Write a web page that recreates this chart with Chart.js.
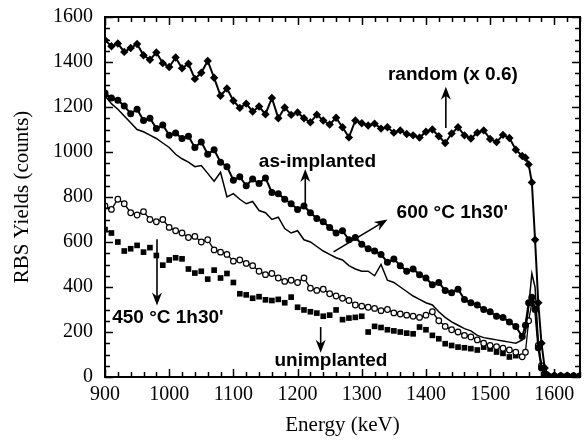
<!DOCTYPE html>
<html>
<head>
<meta charset="utf-8">
<script src="https://cdn.jsdelivr.net/npm/chart.js@4/dist/chart.umd.min.js"></script>
<style>
  html, body { margin: 0; padding: 0; background: #fff; }
  #wrap { width: 586px; height: 445px; }
</style>
</head>
<body>
<div id="wrap"><canvas id="c" width="586" height="445"></canvas></div>
<script>
// energies (keV)
const energy = [
  900, 910, 920, 930, 940, 950, 960, 970, 980, 990,
  1000, 1010, 1020, 1030, 1040, 1050, 1060, 1070, 1080, 1090,
  1100, 1110, 1120, 1130, 1140, 1150, 1160, 1170, 1180, 1190,
  1200, 1210, 1220, 1230, 1240, 1250, 1260, 1270, 1280, 1290,
  1300, 1310, 1320, 1330, 1340, 1350, 1360, 1370, 1380, 1390,
  1400, 1410, 1420, 1430, 1440, 1450, 1460, 1470, 1480, 1490,
  1500, 1510, 1520, 1530, 1540, 1550,
  1555, 1560, 1565, 1570, 1575, 1580, 1585, 1590, 1600, 1610, 1620, 1630, 1640
];

const randomYield = [
  1498, 1470, 1482, 1445, 1462, 1480, 1430, 1410, 1442, 1395,
  1378, 1420, 1372, 1392, 1325, 1352, 1405, 1330, 1250, 1282,
  1228, 1196, 1215, 1180, 1202, 1168, 1240, 1150, 1198, 1165,
  1176, 1150, 1132, 1166, 1140, 1122, 1152, 1110, 1065, 1140,
  1128, 1118, 1126, 1104, 1110, 1086, 1096, 1080, 1074, 1064,
  1090, 1100, 1070, 1040, 1082, 1110, 1074, 1060, 1086, 1096,
  1058, 1044, 1076, 1062, 1010, 982,
  975, 945, 865, 610, 330, 150, 40, 8, 6, 5, 6, 5, 5
];

const asImplanted = [
  1262, 1240, 1230, 1205, 1170, 1190, 1140, 1150, 1105, 1120,
  1075, 1084, 1060, 1070, 1020, 1045, 990, 1010, 955, 935,
  875, 890, 850, 880, 860, 885, 820, 815, 790, 770,
  745, 760, 730, 705, 690, 665, 640, 650, 610, 620,
  590, 570, 560, 545, 510, 525, 495, 470, 480, 455,
  440, 410, 420, 385, 375, 390, 345, 330, 320, 300,
  290, 270, 265, 245, 225, 180,
  230, 330, 355, 300, 130, 40, 12, 5, 5, 4, 5, 4, 5
];

const anneal600 = [
  1250, 1215, 1190, 1160, 1130, 1100, 1090, 1075, 1060, 1040,
  1020, 990, 970, 955, 935, 940, 905, 870, 910, 800,
  815, 790, 770, 780, 740, 730, 700, 710, 660, 640,
  650, 610, 600, 580, 560, 545, 530, 520, 495, 480,
  470, 470, 450, 500, 430, 420, 400, 380, 360, 345,
  330, 320, 290, 265, 245, 230, 215, 205, 185, 175,
  170, 165, 160, 155, 150, 165,
  200, 310, 460, 400, 160, 50, 12, 5, 4, 4, 4, 4, 4
];

const anneal450 = [
  760, 745, 790, 770, 730, 720, 735, 700, 690, 700,
  665, 650, 640, 620, 625, 600, 610, 565, 555, 545,
  515, 520, 505, 495, 470, 455, 460, 440, 425, 430,
  420, 440, 395, 385, 390, 370, 360, 350, 340, 320,
  315, 310, 305, 295, 300, 285, 280, 275, 270, 265,
  275, 290, 250, 225, 210, 200, 185, 178, 165, 150,
  140, 135, 128, 120, 110, 90,
  110, 250, 330, 320, 140, 50, 15, 5, 5, 5, 5, 5, 5
];

const unimplanted = [
  655, 640, 600, 560, 570, 585, 555, 575, 540, 497,
  520, 530, 525, 480, 462, 470, 435, 475, 440, 460,
  420, 370, 365, 350, 357, 343, 340, 345, 330, 355,
  310, 298, 290, 284, 270, 275, 298, 255, 262, 265,
  270, 200, 225, 220, 210, 205, 200, 195, 192, 222,
  210, 185, 170, 148, 140, 133, 130, 126, 120, 133,
  125, 111, 105, 89, 95, null,
  null, null, null, null, null, null, null, null, null, null, null, null, null
];

const xTicks = [900, 1000, 1100, 1200, 1300, 1400, 1500, 1600];
const yTicks = [0, 200, 400, 600, 800, 1000, 1200, 1400, 1600];

// annotation labels: [text, x, y] and arrows: [x1, y1, x2, y2] in data units
const labels = [
  ['random (x 0.6)', 1442, 1345],
  ['as-implanted', 1231, 955],
  ["600 °C 1h30'", 1441, 729],
  ["450 °C 1h30'", 998, 262],
  ['unimplanted', 1252, 71]
];
const arrows = [
  [1431, 1107, 1431, 1290],
  [1212, 764, 1212, 925],
  [1256, 556, 1340, 700],
  [981, 612, 981, 318],
  [1236, 222, 1236, 108]
];

const pts = vals => energy.map((e, i) => ({ x: e, y: vals[i] }));

const frame = {
  id: 'frame',
  afterDatasetsDraw(chart) {
    const { ctx, chartArea: a, scales: { x, y } } = chart;
    ctx.save();
    ctx.strokeStyle = '#000';
    ctx.lineWidth = 1.5;
    ctx.beginPath();
    for (let e = 900; e <= 1640; e += 20) {
      const px = Math.round(x.getPixelForValue(e)) + 0.5;
      const len = e % 100 === 0 ? 8 : 5;
      ctx.moveTo(px, a.bottom); ctx.lineTo(px, a.bottom - len);
      ctx.moveTo(px, a.top); ctx.lineTo(px, a.top + len);
    }
    for (let v = 0; v <= 1600; v += 50) {
      const py = Math.round(y.getPixelForValue(v)) + 0.5;
      const len = v % 200 === 0 ? 8 : 5;
      ctx.moveTo(a.left, py); ctx.lineTo(a.left + len, py);
      ctx.moveTo(a.right, py); ctx.lineTo(a.right - len, py);
    }
    ctx.stroke();
    ctx.lineWidth = 2;
    ctx.strokeRect(a.left, a.top, a.right - a.left, a.bottom - a.top);

    // arrows
    ctx.lineWidth = 1.6;
    ctx.fillStyle = '#000';
    arrows.forEach(([x1, y1, x2, y2]) => {
      const p1x = x.getPixelForValue(x1), p1y = y.getPixelForValue(y1);
      const p2x = x.getPixelForValue(x2), p2y = y.getPixelForValue(y2);
      const ang = Math.atan2(p2y - p1y, p2x - p1x);
      ctx.beginPath();
      ctx.moveTo(p1x, p1y);
      ctx.lineTo(p2x - 8 * Math.cos(ang), p2y - 8 * Math.sin(ang));
      ctx.stroke();
      ctx.beginPath();
      ctx.moveTo(p2x, p2y);
      ctx.lineTo(p2x - 13 * Math.cos(ang) + 5 * Math.sin(ang), p2y - 13 * Math.sin(ang) - 5 * Math.cos(ang));
      ctx.lineTo(p2x - 9 * Math.cos(ang), p2y - 9 * Math.sin(ang));
      ctx.lineTo(p2x - 13 * Math.cos(ang) - 5 * Math.sin(ang), p2y - 13 * Math.sin(ang) + 5 * Math.cos(ang));
      ctx.closePath();
      ctx.fill();
    });

    ctx.font = 'bold 19px "Liberation Sans", Arial, sans-serif';
    ctx.textAlign = 'center';
    ctx.textBaseline = 'middle';
    labels.forEach(([t, lx, ly]) => {
      ctx.fillText(t, x.getPixelForValue(lx), y.getPixelForValue(ly));
    });
    ctx.restore();
  }
};

new Chart(document.getElementById('c'), {
  type: 'line',
  data: {
    datasets: [
      {
        label: 'random (x 0.6)',
        data: pts(randomYield),
        borderColor: '#000', backgroundColor: '#000',
        borderWidth: 2, pointStyle: 'rectRot', pointRadius: 4.2, pointBorderWidth: 0
      },
      {
        label: 'as-implanted',
        data: pts(asImplanted),
        borderColor: '#000', backgroundColor: '#000',
        borderWidth: 2, pointStyle: 'circle', pointRadius: 3.5, pointBorderWidth: 0
      },
      {
        label: "600 °C 1h30'",
        data: pts(anneal600),
        borderColor: '#000', borderWidth: 1.5, pointRadius: 0
      },
      {
        label: "450 °C 1h30'",
        data: pts(anneal450),
        borderColor: '#000', backgroundColor: '#fff',
        borderWidth: 1.3, pointStyle: 'circle', pointRadius: 2.8, pointBorderWidth: 1.2
      },
      {
        label: 'unimplanted',
        data: pts(unimplanted),
        showLine: false, borderColor: '#000', backgroundColor: '#000',
        pointStyle: 'rect', pointRadius: 4, pointBorderWidth: 0
      }
    ]
  },
  options: {
    responsive: false,
    animation: false,
    layout: { padding: { top: 17, right: 6, left: 0, bottom: 0 } },
    plugins: { legend: { display: false }, tooltip: { enabled: false } },
    elements: { line: { tension: 0 } },
    scales: {
      x: {
        type: 'linear', min: 900, max: 1640,
        grid: { display: false, drawTicks: false },
        border: { display: false },
        afterBuildTicks: s => { s.ticks = xTicks.map(v => ({ value: v })); },
        afterFit: s => { s.height = 68; s.paddingLeft = 0; s.paddingRight = 0; },
        ticks: {
          color: '#000', padding: 6, maxRotation: 0,
          font: { family: '"Liberation Serif", "Times New Roman", serif', size: 20 },
          callback: v => String(v)
        },
        title: {
          display: true, text: 'Energy (keV)', color: '#000',
          font: { family: '"Liberation Serif", "Times New Roman", serif', size: 21 },
          padding: { top: 0, bottom: 7 }
        }
      },
      y: {
        min: 0, max: 1600,
        grid: { display: false, drawTicks: false },
        border: { display: false },
        afterBuildTicks: s => { s.ticks = yTicks.map(v => ({ value: v })); },
        afterFit: s => { s.width = 105; s.paddingTop = 0; s.paddingBottom = 0; },
        ticks: {
          color: '#000', padding: 12,
          font: { family: '"Liberation Serif", "Times New Roman", serif', size: 20 },
          callback: v => String(v)
        },
        title: {
          display: true, text: 'RBS Yields (counts)', color: '#000',
          font: { family: '"Liberation Serif", "Times New Roman", serif', size: 21 },
          padding: { top: 10, bottom: 0 }
        }
      }
    }
  },
  plugins: [frame]
});
</script>
</body>
</html>
